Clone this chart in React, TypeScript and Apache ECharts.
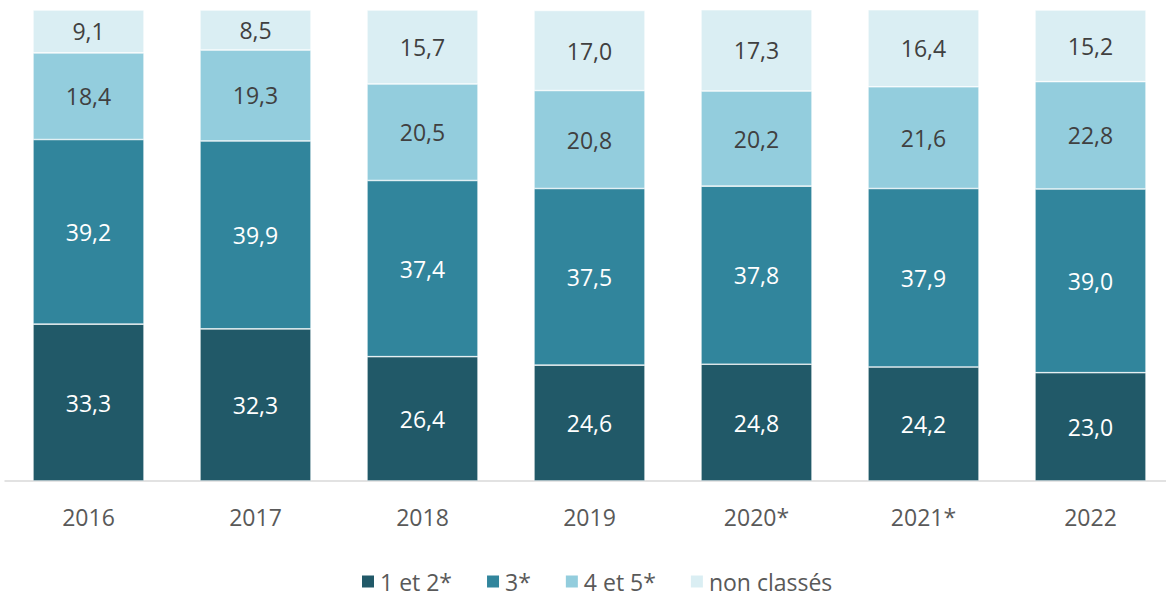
import React, { useEffect, useRef } from "react";
import * as echarts from "echarts";

const categories = ["2016", "2017", "2018", "2019", "2020*", "2021*", "2022"];
const s12 = [33.3, 32.3, 26.4, 24.6, 24.8, 24.2, 23.0];
const s3 = [39.2, 39.9, 37.4, 37.5, 37.8, 37.9, 39.0];
const s45 = [18.4, 19.3, 20.5, 20.8, 20.2, 21.6, 22.8];
const sNc = [9.1, 8.5, 15.7, 17.0, 17.3, 16.4, 15.2];
const seriesNames = ["1 et 2*", "3*", "4 et 5*", "non classés"];

const colors = ["#215968", "#31859C", "#93CDDD", "#DAEEF3"];
const labelColors = ["#ffffff", "#ffffff", "#404040", "#404040"];
const FONT = "'Open Sans', 'Noto Sans', sans-serif";

export default function App() {
  const ref = useRef<HTMLDivElement>(null);
  useEffect(() => {
    if (!ref.current) return;
    const chart = echarts.init(ref.current, null, { renderer: "svg" });
    const data = [s12, s3, s45, sNc];
    chart.setOption({
      animation: false,
      grid: { left: 5, right: 0, top: 10, bottom: 117 },
      legend: {
        top: 570,
        left: 360,
        padding: 0,
        itemWidth: 14,
        itemHeight: 14,
        itemGap: 33,
        icon: "rect",
        textStyle: { fontFamily: FONT, fontSize: 23, color: "#595959" },
        data: seriesNames,
      },
      xAxis: {
        type: "category",
        data: categories,
        axisLine: { lineStyle: { color: "#d9d9d9", width: 1.5 } },
        axisTick: { show: false },
        axisLabel: { fontFamily: FONT, fontSize: 23, color: "#595959", margin: 24 },
      },
      yAxis: {
        type: "value",
        min: 0,
        max: 100,
        show: false,
        splitLine: { show: false },
      },
      series: data.map((d, i) => ({
        name: seriesNames[i],
        type: "bar",
        stack: "total",
        data: d,
        barWidth: "66.5%",
        itemStyle: { color: colors[i], borderColor: "#ffffff", borderWidth: 0.6 },
        label: {
          show: true,
          position: "inside",
          fontFamily: FONT,
          fontSize: 23,
          color: labelColors[i],
          formatter: (p: any) => p.value.toFixed(1).replace(".", ","),
        },
      })),
    });
    return () => chart.dispose();
  }, []);
  return (
    <div style={{ position: "fixed", left: 0, top: 0, width: 1166, height: 598, overflow: "hidden", background: "#fff" }}>
      <div ref={ref} style={{ width: 1174, height: 598 }} />
    </div>
  );
}
